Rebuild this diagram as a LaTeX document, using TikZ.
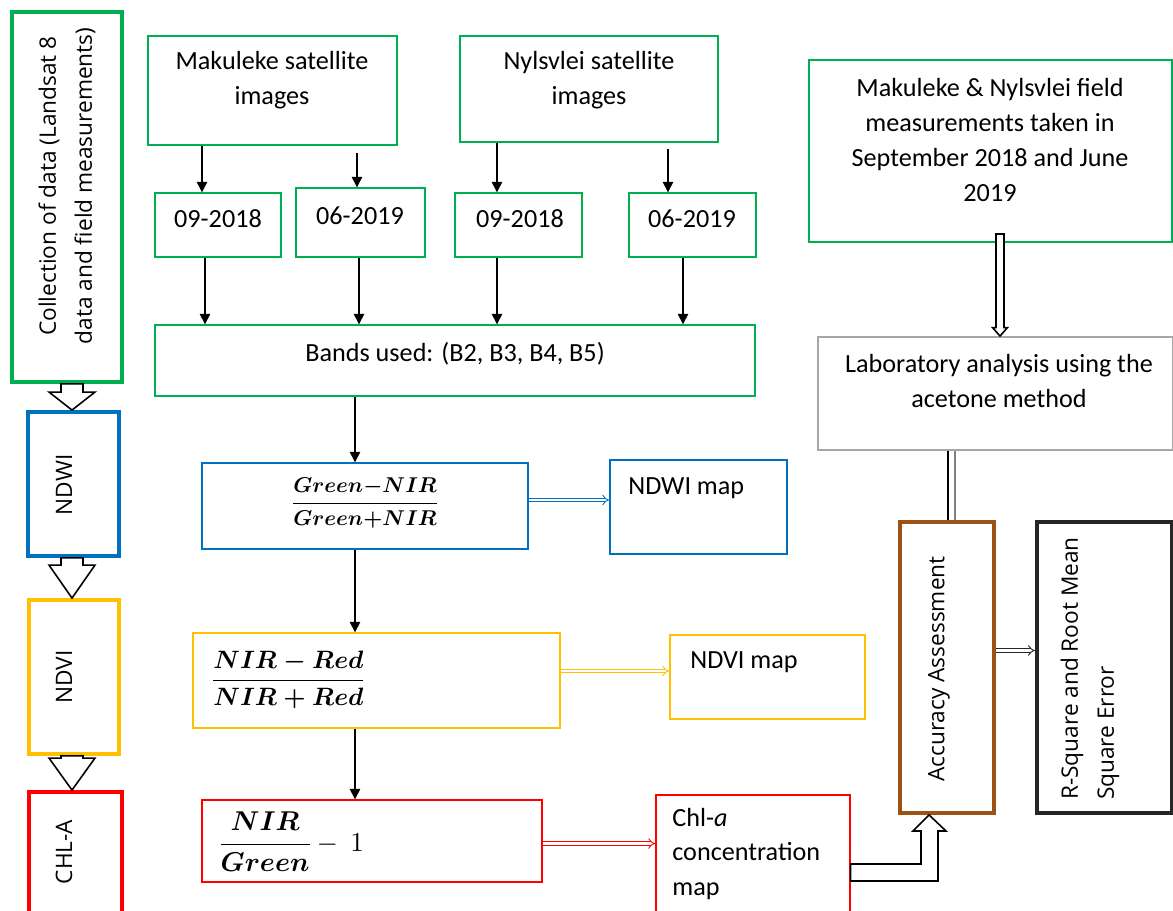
\documentclass[tikz,border=0pt]{standalone}
\usepackage{amsmath}
\usepackage{graphicx}
\usepackage{fontspec}
\setmainfont{Carlito}
\newfontfamily\sidefont{Open Sans}
\usetikzlibrary{arrows.meta,calc}
\definecolor{wgreen}{HTML}{00B050}
\definecolor{wblue}{HTML}{0070C0}
\definecolor{wyellow}{HTML}{FFC000}
\definecolor{wred}{HTML}{FF0000}
\definecolor{wbrown}{HTML}{9C5214}
\definecolor{wgrey}{HTML}{A6A6A6}
\definecolor{wdark}{HTML}{262626}
\tikzset{
  box/.style={draw, inner sep=0pt, line width=0.8pt},
  thickbox/.style={draw, inner sep=0pt, line width=2.2pt},
  txt/.style={font=\fontsize{14.9}{19.8}\selectfont, align=center, inner sep=0pt},
  sidetxt/.style={font=\sidefont\fontsize{12.9}{20.6}\selectfont, align=center, inner sep=0pt, rotate=90},
  formula/.style={inner sep=0pt, font=\boldmath},
  flow/.style={line width=0.8pt, -{Triangle[length=6pt,width=6pt]}},
  twin/.style={double, double distance=1.6pt, line width=0.5pt, -Implies},
  blockarrow/.style={draw=black, fill=white, line width=0.9pt, line join=miter}
}
% block arrow pointing down: start, tip, shaft half width, head half width, head length
\newcommand\blockdown[5]{\draw[blockarrow] let \p1=(#1), \p2=(#2) in
  (\x2-#3,\y1) -- (\x2-#3,\y2+#5) -- (\x2-#4,\y2+#5) -- (\x2,\y2) -- (\x2+#4,\y2+#5)
  -- (\x2+#3,\y2+#5) -- (\x2+#3,\y1) -- cycle;}

\begin{document}
\begin{tikzpicture}[x=0.02cm, y=-0.02cm]
		\useasboundingbox (0,0) rectangle (1173,911);
		
		%%%%% left column %%%%%
		\node[thickbox, draw=wgreen, minimum width=2.2cm, minimum height=7.4cm] (coll) at (67,197) {};
		\node[sidetxt] (collt) at (67,186) {Collection of data (Landsat 8\\data and field measurements)};
		\node[thickbox, draw=wblue, minimum width=1.82cm, minimum height=2.88cm] (ndwi) at (73.5,484) {};
		\node[sidetxt] (ndwit) at (64,485) {NDWI};
		\node[thickbox, draw=wyellow, minimum width=1.8cm, minimum height=3.08cm] (ndvi) at (74,677) {};
		\node[sidetxt] (ndvit) at (64,677) {NDVI};
		\node[thickbox, draw=wred, minimum width=1.86cm, minimum height=2.48cm] (chl) at (75.5,854) {};
		\node[sidetxt] (chlt) at (64,852) {CHL-A};
		
		\blockdown{coll.south -| 72,0}{ndwi.north -| 72,0}{0.22cm}{0.46cm}{0.36cm}
		\blockdown{ndwi.south -| 72,0}{ndvi.north -| 72,0}{0.22cm}{0.46cm}{0.66cm}
		\blockdown{ndvi.south -| 72,0}{chl.north -| 72,0}{0.22cm}{0.46cm}{0.64cm}
		
		%%%%% satellite images %%%%%
		\node[box, draw=wgreen, minimum width=4.98cm, minimum height=2.18cm] (mak) at (272.5,90.5) {};
		\node[txt] (makt) at (272,80) {Makuleke satellite\\images};
		\node[box, draw=wgreen, minimum width=5.16cm, minimum height=2.12cm] (nyl) at (589,89) {};
		\node[txt] (nylt) at (589,80) {Nylsvlei satellite\\images};
		
		\node[box, draw=wgreen, minimum width=2.52cm, minimum height=1.28cm] (da) at (218,225) {};
		\node[txt] at (218,219) {09-2018};
		\node[box, draw=wgreen, minimum width=2.58cm, minimum height=1.38cm] (db) at (360.5,222.5) {};
		\node[txt] at (360,216) {06-2019};
		\node[box, draw=wgreen, minimum width=2.54cm, minimum height=1.28cm] (dc) at (518.5,225) {};
		\node[txt] at (520,219) {09-2018};
		\node[box, draw=wgreen, minimum width=2.54cm, minimum height=1.28cm] (dd) at (692.5,225) {};
		\node[txt] at (692,219) {06-2019};
		
		\draw[flow] (mak.south -| 202,0) -- (da.north -| 202,0);
		\draw[flow, shorten <=0.14cm] (mak.south -| 357,0) -- (db.north -| 357,0);
		\draw[flow] (nyl.south -| 497,0) -- (dc.north -| 497,0);
		\draw[flow, shorten <=0.12cm] (nyl.south -| 668,0) -- (dd.north -| 668,0);
		
		\node[box, draw=wgreen, minimum width=12cm, minimum height=1.42cm] (bands) at (455,360.5) {};
		\node[txt] (bandst) at (455,354) {Bands used: (B2, B3, B4, B5)};
		
		\draw[flow] (da.south -| 205,0) -- (bands.north -| 205,0);
		\draw[flow] (db.south -| 359,0) -- (bands.north -| 359,0);
		\draw[flow] (dc.south -| 497,0) -- (bands.north -| 497,0);
		\draw[flow] (dd.south -| 683,0) -- (bands.north -| 683,0);
		
		%%%%% indices %%%%%
		\node[box, draw=wblue, minimum width=6.52cm, minimum height=1.72cm] (fndwi) at (365,506) {};
		\node[formula] (fndwit) at (365,503)
			{\scalebox{1.22}{$\dfrac{Green{-}NIR}{Green{+}NIR}$}};
		\node[box, draw=wblue, minimum width=3.54cm, minimum height=1.88cm] (mndwi) at (698.5,507) {};
		\node[txt, anchor=west] (mndwit) at (628,488) {NDWI map};
		
		\node[box, draw=wyellow, minimum width=7.34cm, minimum height=1.9cm] (fndvi) at (376.5,680.5) {};
		\node[formula, anchor=west] (fndvit) at (210,680)
			{\scalebox{1.43}{$\dfrac{NIR-Red}{NIR+Red}$}};
		\node[box, draw=wyellow, minimum width=3.9cm, minimum height=1.68cm] (mndvi) at (767.5,677) {};
		\node[txt, anchor=west] (mndvit) at (690,662) {NDVI map};
		
		\node[box, draw=wred, minimum width=6.8cm, minimum height=1.64cm] (fchl) at (372,841) {};
		\node[formula, anchor=west] (fchlt) at (217,842)
			{\scalebox{1.55}{$\dfrac{NIR}{Green}\mbox{\unboldmath\kern1.5pt$-$\kern4.5pt$1$}$}};
		\node[box, draw=wred, minimum width=3.88cm, minimum height=2.42cm] (mchl) at (753,855.5) {};
		\node[txt, anchor=west, align=left] (mchlt) at (672,854) {Chl-\textit{a}\\concentration\\map};
		
		\draw[flow] (bands.south -| 355,0) -- (fndwi.north -| 355,0);
		\draw[flow] (fndwi.south -| 355,0) -- (fndvi.north -| 355,0);
		\draw[flow] (fndvi.south -| 355,0) -- (fchl.north -| 355,0);
		
		\draw[twin, draw=wblue] (fndwi.east |- 0,500) -- (mndwi.west |- 0,500);
		\draw[twin, draw=wyellow] (fndvi.east |- 0,671) -- (mndvi.west |- 0,671);
		\draw[twin, draw=wred] (fchl.east |- 0,843.5) -- (mchl.west |- 0,843.5);
		
		%%%%% field data %%%%%
		\node[box, draw=wgreen, minimum width=7.26cm, minimum height=3.64cm] (field) at (990.5,151) {};
		\node[txt] (fieldt) at (990,140) {Makuleke \& Nylsvlei field\\measurements taken in\\September 2018 and June\\2019};
		\node[box, draw=wgrey, line width=1.1pt, minimum width=7.1cm, minimum height=2.26cm] (lab) at (995.5,393.5) {};
		\node[txt] (labt) at (999,381) {Laboratory analysis using the\\acetone method};
		
		\blockdown{1000,234}{lab.north -| 1000,0}{0.08cm}{0.15cm}{0.17cm}
		
		\node[thickbox, draw=wbrown, minimum width=1.88cm, minimum height=5.82cm] (acc) at (947,667.5) {};
		\node[sidetxt] (acct) at (939,669) {Accuracy Assessment};
		\node[thickbox, draw=wdark, minimum width=2.7cm, minimum height=5.82cm] (rsq) at (1104.5,667.5) {};
		\node[sidetxt, align=left] (rsqt) at (1090,668.5) {R-Square and Root Mean\\Square Error};
		
		\draw[line width=0.6pt] (lab.south -| 948,0) -- (acc.north -| 948,0);
		\draw[line width=0.6pt, draw=gray] (lab.south -| 955,0) -- (acc.north -| 955,0);
		\draw[twin, draw=wdark] (acc.east |- 0,650.5) -- (rsq.west |- 0,650.5);
		
		\draw[blockarrow] (mchl.east |- 0,864) -- (921,864) -- (921,831) -- (913,831) -- (acc.south -| 929,0)
			-- (946,831) -- (938,831) -- (938,881) -- (mchl.east |- 0,881) -- cycle;
		
	\end{tikzpicture}
\end{document}
